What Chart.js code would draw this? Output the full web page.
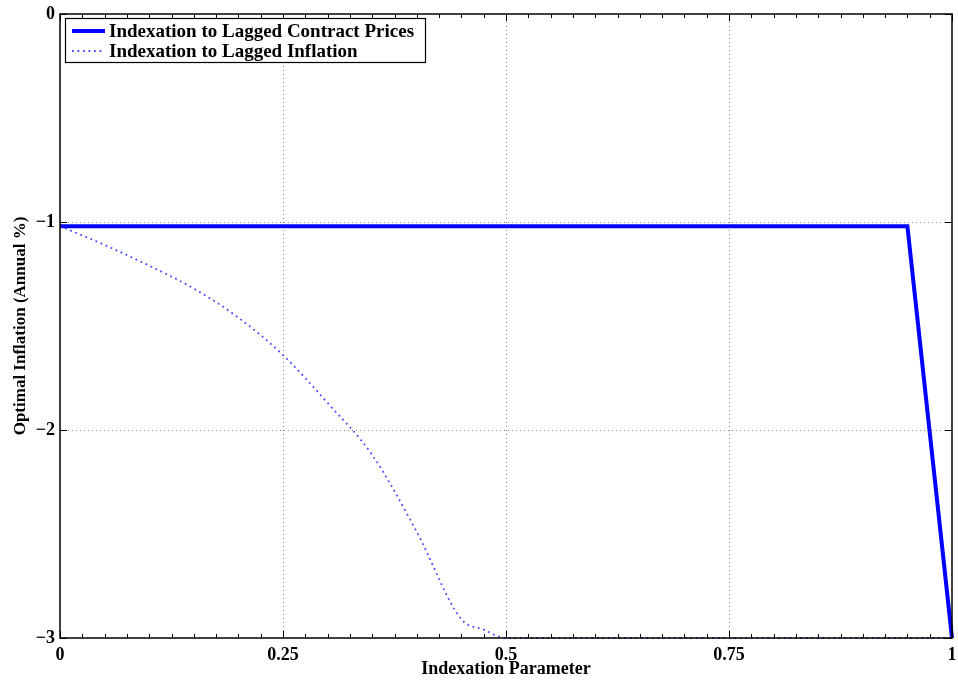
<!DOCTYPE html>
<html>
<head>
<meta charset="utf-8">
<script src="https://cdn.jsdelivr.net/npm/chart.js@4"></script>
<style>
  html, body { margin: 0; padding: 0; background: #fff; }
  #wrap { width: 958px; height: 685px; }
</style>
</head>
<body>
<div id="wrap"><canvas id="grafico" width="958" height="685"></canvas></div>
<script>
// Datos
const xPrecios = [0, 0.95, 1];
const yPrecios = [-1.02, -1.02, -3];

const xInflacion = [0, 0.05, 0.1, 0.15, 0.2, 0.25, 0.3, 0.35, 0.4, 0.45, 0.475, 0.5, 0.75, 1];
const yInflacion = [-1.02, -1.11, -1.21, -1.32, -1.46, -1.64, -1.87, -2.12, -2.49, -2.91, -2.96, -3.0, -3.0, -3.0];

const xTicks = [0, 0.25, 0.5, 0.75, 1];
const xTickLabels = ['0', '0.25', '0.5', '0.75', '1'];
const yTicks = [0, -1, -2, -3];
const yTickLabels = ['0', '\u22121', '\u22122', '\u22123'];

const etiquetas = ['Indexation to Lagged Contract Prices', 'Indexation to Lagged Inflation'];

const FUENTE = '"Liberation Serif", "Times New Roman", serif';

const aPuntos = (xs, ys) => xs.map((x, i) => ({ x: x, y: ys[i] }));

/**
 * Marco, rejilla punteada, marcas hacia dentro y leyenda estilo Matlab
 */
const marcoPlugin = {
    id: 'marco',
    beforeDatasetsDraw(chart) {
        const { ctx, chartArea: a, scales } = chart;
        ctx.save();
        ctx.strokeStyle = '#8a8a8a';
        ctx.lineWidth = 1;
        ctx.setLineDash([1, 3]);
        xTicks.forEach(v => {
            if (v === 0 || v === 1) return;
            const px = Math.round(scales.x.getPixelForValue(v)) + 0.5;
            ctx.beginPath(); ctx.moveTo(px, a.top); ctx.lineTo(px, a.bottom); ctx.stroke();
        });
        yTicks.forEach(v => {
            if (v === 0 || v === -3) return;
            const py = Math.round(scales.y.getPixelForValue(v)) + 0.5;
            ctx.beginPath(); ctx.moveTo(a.left, py); ctx.lineTo(a.right, py); ctx.stroke();
        });
        ctx.restore();
    },
    afterDatasetsDraw(chart) {
        const { ctx, chartArea: a, scales } = chart;
        ctx.save();
        ctx.strokeStyle = '#000';
        ctx.lineWidth = 1.5;
        ctx.setLineDash([]);
        ctx.strokeRect(a.left, a.top, a.right - a.left, a.bottom - a.top);

        // marcas del eje x (mayores y menores), abajo y arriba
        ctx.lineWidth = 1;
        for (let i = 0; i <= 40; i++) {
            const v = i / 40;
            const px = Math.round(scales.x.getPixelForValue(v)) + 0.5;
            const len = (i % 10 === 0) ? 7 : 4;
            ctx.beginPath();
            ctx.moveTo(px, a.bottom); ctx.lineTo(px, a.bottom - len);
            ctx.moveTo(px, a.top); ctx.lineTo(px, a.top + len);
            ctx.stroke();
        }
        // marcas del eje y
        yTicks.forEach(v => {
            const py = Math.round(scales.y.getPixelForValue(v)) + 0.5;
            ctx.beginPath();
            ctx.moveTo(a.left, py); ctx.lineTo(a.left + 7, py);
            ctx.moveTo(a.right, py); ctx.lineTo(a.right - 7, py);
            ctx.stroke();
        });

        // leyenda
        const lx = a.left + 5, ly = a.top + 4, lw = 360, lh = 44;
        ctx.fillStyle = '#fff';
        ctx.fillRect(lx, ly, lw, lh);
        ctx.strokeStyle = '#000';
        ctx.lineWidth = 1.2;
        ctx.strokeRect(lx + 0.5, ly + 0.5, lw, lh);
        ctx.font = 'bold 19px ' + FUENTE;
        ctx.textBaseline = 'middle';
        chart.data.datasets.forEach((ds, i) => {
            const yy = ly + 13 + i * 20;
            ctx.save();
            ctx.strokeStyle = ds.borderColor;
            ctx.lineWidth = ds.borderWidth;
            ctx.setLineDash(ds.borderDash || []);
            ctx.beginPath(); ctx.moveTo(lx + 7, yy); ctx.lineTo(lx + 40, yy); ctx.stroke();
            ctx.restore();
            ctx.fillStyle = '#000';
            ctx.fillText(ds.label, lx + 44, yy + 1);
        });
        ctx.restore();
    }
};

const ctx = document.getElementById('grafico').getContext('2d');

new Chart(ctx, {
    type: 'line',
    data: {
        datasets: [
            {
                label: etiquetas[0],
                data: aPuntos(xPrecios, yPrecios),
                borderColor: '#0000ff',
                borderWidth: 4,
                pointRadius: 0,
                tension: 0,
                clip: false
            },
            {
                label: etiquetas[1],
                data: aPuntos(xInflacion, yInflacion),
                borderColor: 'rgba(30, 30, 255, 0.8)',
                borderWidth: 1.8,
                borderDash: [1.8, 3.7],
                pointRadius: 0,
                cubicInterpolationMode: 'monotone',
                clip: false
            }
        ]
    },
    options: {
        responsive: false,
        animation: false,
        layout: { padding: { top: 14, right: 6, left: 0, bottom: 0 } },
        plugins: {
            legend: { display: false },
            tooltip: { enabled: false }
        },
        scales: {
            x: {
                type: 'linear',
                min: 0,
                max: 1,
                grid: { display: false, drawTicks: false },
                border: { display: false },
                afterBuildTicks: s => { s.ticks = xTicks.map(v => ({ value: v })); },
                afterFit: s => { s.height = 47; s.paddingLeft = 0; s.paddingRight = 0; },
                ticks: {
                    padding: 7,
                    maxRotation: 0,
                    color: '#000',
                    font: { family: FUENTE, size: 18, weight: 'bold' },
                    callback: (v) => xTickLabels[xTicks.indexOf(v)]
                },
                title: {
                    display: true,
                    text: 'Indexation Parameter',
                    color: '#000',
                    padding: { top: 0, bottom: 5 },
                    font: { family: FUENTE, size: 18, weight: 'bold' }
                }
            },
            y: {
                type: 'linear',
                min: -3,
                max: 0,
                grid: { display: false, drawTicks: false },
                border: { display: false },
                afterBuildTicks: s => { s.ticks = yTicks.map(v => ({ value: v })); },
                afterFit: s => { s.width = 60; s.paddingTop = 0; s.paddingBottom = 0; },
                ticks: {
                    padding: 5,
                    color: '#000',
                    font: { family: FUENTE, size: 18, weight: 'bold' },
                    callback: (v) => yTickLabels[yTicks.indexOf(v)]
                },
                title: {
                    display: true,
                    text: 'Optimal Inflation (Annual %)',
                    color: '#000',
                    padding: { top: 10, bottom: 0 },
                    font: { family: FUENTE, size: 17, weight: 'bold' }
                }
            }
        }
    },
    plugins: [marcoPlugin]
});
</script>
</body>
</html>
